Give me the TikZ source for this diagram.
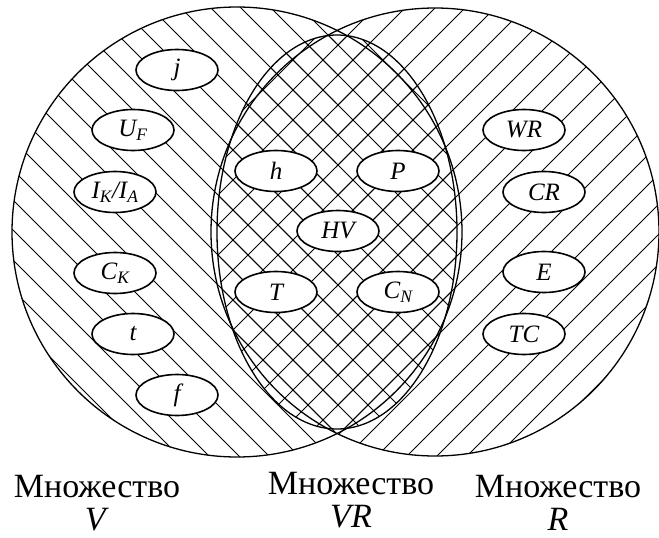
\documentclass[tikz,border=0pt]{standalone}
\usepackage{fontspec}
\setmainfont{Liberation Serif}
\usetikzlibrary{shapes.geometric}

\begin{document}
\begin{tikzpicture}[
    x=1pt, y=-1pt,
    param/.style={draw, ellipse, fill=white, line width=1.6pt, minimum width=82pt, minimum height=41pt, inner sep=0pt, font=\fontsize{25}{27}\selectfont\itshape},
    setname/.style={anchor=south, align=center, inner sep=0pt, font=\fontsize{34}{33}\selectfont},
    hatch/.style={line width=0.8pt},
    border/.style={line width=1.3pt}
    ]

    \useasboundingbox (0,0) rectangle (659,538);

    % Hatching of V
    \begin{scope}
      \clip (237,232) circle [radius=225pt];
      \clip (-10,-10) rectangle (336,560);
      \foreach \c in {-547,-517,...,653}
        \draw[hatch] (\c-10,-10) -- (\c+560,560);
    \end{scope}

    % Hatching of R
    \begin{scope}
      \clip (435,232) circle [radius=224pt];
      \clip (336,-10) rectangle (700,560);
      \foreach \c in {173,203,...,1253}
        \draw[hatch] (\c+10,-10) -- (\c-560,560);
    \end{scope}

    % Hatching of VR
    \begin{scope}
      \clip (337,232) ellipse [x radius=120pt, y radius=197pt];
      \foreach \c in {-547,-517,...,653}
        \draw[hatch] (\c-10,-10) -- (\c+560,560);
      \foreach \c in {173,203,...,1253}
        \draw[hatch] (\c+10,-10) -- (\c-560,560);
    \end{scope}

    % Sets
    \draw[border] (237,232) circle [radius=225pt];
    \draw[border] (435,232) circle [radius=224pt];
    \draw[border] (337,232) ellipse [x radius=120pt, y radius=197pt];

    % Nodes
    \node (j) [param] at (177,70) {j};
    \node (uf) [param] at (133,130) {U\textsubscript{F}};
    \node (ikia) [param] at (115,192) {I\textsubscript{K}/I\textsubscript{A}};
    \node (ck) [param] at (115,273) {C\textsubscript{K}};
    \node (t) [param] at (133,334) {t};
    \node (f) [param] at (177,395) {f};

    \node (h) [param] at (276,171) {h};
    \node (p) [param] at (398,171) {P};
    \node (hv) [param] at (338,231) {HV};
    \node (tt) [param] at (276,292) {T};
    \node (cn) [param] at (398,292) {C\textsubscript{N}};

    \node (wr) [param] at (524,130) {WR};
    \node (cr) [param] at (544,192) {CR};
    \node (e) [param] at (544,272) {E};
    \node (tc) [param] at (524,334) {TC};

    % Captions
    \node (setV) [setname] at (97,531) {Множество\\\textit{V}};
    \node (setVR) [setname] at (351,528) {Множество\\\textit{VR}};
    \node (setR) [setname] at (558,531) {Множество\\\textit{R}};

  \end{tikzpicture}
\end{document}
